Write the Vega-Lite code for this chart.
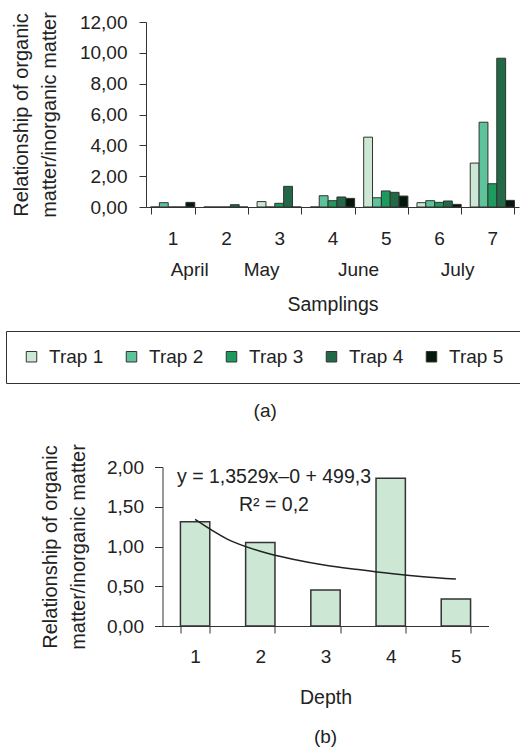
{
  "$schema": "https://vega.github.io/schema/vega-lite/v6.json",
  "padding": {"left": 5, "right": 1, "top": 11, "bottom": 5},
  "spacing": 22,
  "center": true,
  "config": {
    "view": {"stroke": null},
    "font": "Liberation Sans",
    "axis": {
      "grid": false,
      "labelFont": "Liberation Sans",
      "titleFont": "Liberation Sans",
      "labelColor": "#222222",
      "titleColor": "#222222",
      "titleFontWeight": "normal",
      "domainColor": "#333333",
      "tickColor": "#333333",
      "labelFontSize": 19,
      "titleFontSize": 19.5,
      "labelOverlap": false
    },
    "legend": {"labelFont": "Liberation Sans", "labelColor": "#222222"},
    "title": {"font": "Liberation Sans", "fontWeight": "normal", "color": "#222222", "fontSize": 19}
  },
  "vconcat": [
    {
      "width": 373,
      "height": 185,
      "title": {"text": "(a)", "orient": "bottom", "anchor": "middle", "frame": "bounds", "offset": 88},
      "layer": [
        {
          "data": {
            "values": [
              {"sampling": 1, "trap": "Trap 1", "ratio": 0},
              {"sampling": 1, "trap": "Trap 2", "ratio": 0.28},
              {"sampling": 1, "trap": "Trap 3", "ratio": 0},
              {"sampling": 1, "trap": "Trap 4", "ratio": 0},
              {"sampling": 1, "trap": "Trap 5", "ratio": 0.3},
              {"sampling": 2, "trap": "Trap 1", "ratio": 0},
              {"sampling": 2, "trap": "Trap 2", "ratio": 0},
              {"sampling": 2, "trap": "Trap 3", "ratio": 0},
              {"sampling": 2, "trap": "Trap 4", "ratio": 0.15},
              {"sampling": 2, "trap": "Trap 5", "ratio": 0},
              {"sampling": 3, "trap": "Trap 1", "ratio": 0.35},
              {"sampling": 3, "trap": "Trap 2", "ratio": 0},
              {"sampling": 3, "trap": "Trap 3", "ratio": 0.24},
              {"sampling": 3, "trap": "Trap 4", "ratio": 1.34},
              {"sampling": 3, "trap": "Trap 5", "ratio": 0},
              {"sampling": 4, "trap": "Trap 1", "ratio": 0},
              {"sampling": 4, "trap": "Trap 2", "ratio": 0.73},
              {"sampling": 4, "trap": "Trap 3", "ratio": 0.41},
              {"sampling": 4, "trap": "Trap 4", "ratio": 0.65},
              {"sampling": 4, "trap": "Trap 5", "ratio": 0.56},
              {"sampling": 5, "trap": "Trap 1", "ratio": 4.53},
              {"sampling": 5, "trap": "Trap 2", "ratio": 0.6},
              {"sampling": 5, "trap": "Trap 3", "ratio": 1.04},
              {"sampling": 5, "trap": "Trap 4", "ratio": 0.95},
              {"sampling": 5, "trap": "Trap 5", "ratio": 0.71},
              {"sampling": 6, "trap": "Trap 1", "ratio": 0.28},
              {"sampling": 6, "trap": "Trap 2", "ratio": 0.41},
              {"sampling": 6, "trap": "Trap 3", "ratio": 0.3},
              {"sampling": 6, "trap": "Trap 4", "ratio": 0.39},
              {"sampling": 6, "trap": "Trap 5", "ratio": 0.17},
              {"sampling": 7, "trap": "Trap 1", "ratio": 2.85},
              {"sampling": 7, "trap": "Trap 2", "ratio": 5.5},
              {"sampling": 7, "trap": "Trap 3", "ratio": 1.51},
              {"sampling": 7, "trap": "Trap 4", "ratio": 9.65},
              {"sampling": 7, "trap": "Trap 5", "ratio": 0.43}
            ]
          },
          "mark": {"type": "bar", "stroke": "#333333", "strokeWidth": 1},
          "encoding": {
            "x": {
              "field": "sampling",
              "type": "ordinal",
              "scale": {"paddingInner": 0.17, "paddingOuter": 0.085},
              "axis": {
                "orient": "bottom",
                "title": null,
                "labelAngle": 0,
                "tickBand": "extent",
                "tickSize": 7,
                "labelPadding": 15
              }
            },
            "xOffset": {"field": "trap", "type": "nominal", "scale": {"paddingInner": 0, "paddingOuter": 0}},
            "y": {
              "field": "ratio",
              "type": "quantitative",
              "scale": {"domain": [0, 12], "nice": false},
              "axis": {
                "values": [0, 2, 4, 6, 8, 10, 12],
                "labelExpr": "replace(format(datum.value, '.2f'), '.', ',')",
                "tickSize": 7,
                "labelPadding": 12,
                "title": ["Relationship of organic", "matter/inorganic matter"],
                "titleFontSize": 20,
                "titleLineHeight": 28,
                "titlePadding": 20
              }
            },
            "color": {
              "field": "trap",
              "type": "nominal",
              "scale": {
                "domain": ["Trap 1", "Trap 2", "Trap 3", "Trap 4", "Trap 5"],
                "range": ["#cce8d4", "#5ec39b", "#1d9a5e", "#226a47", "#04190c"]
              },
              "legend": {
                "title": null,
                "orient": "none",
                "legendX": -140,
                "legendY": 309,
                "direction": "horizontal",
                "columns": 5,
                "strokeColor": "#333333",
                "padding": 16,
                "symbolType": "square",
                "symbolSize": 110,
                "symbolStrokeColor": "#333333",
                "symbolStrokeWidth": 1,
                "symbolOpacity": 1,
                "labelFontSize": 19,
                "labelOffset": 8,
                "columnPadding": 18
              }
            }
          }
        },
        {
          "data": {
            "values": [
              {"month": "April", "pos": 1.31},
              {"month": "May", "pos": 2.66},
              {"month": "June", "pos": 4.48},
              {"month": "July", "pos": 6.34}
            ]
          },
          "mark": {"type": "text", "opacity": 0},
          "encoding": {
            "text": {"field": "month"},
            "x": {
              "field": "pos",
              "type": "quantitative",
              "scale": {"domain": [0.5, 7.5], "nice": false, "zero": false},
              "axis": {
                "orient": "bottom",
                "values": [1.31, 2.66, 4.48, 6.34],
                "labelExpr": "datum.value < 2 ? 'April' : datum.value < 3 ? 'May' : datum.value < 5 ? 'June' : 'July'",
                "ticks": false,
                "tickSize": 0,
                "domain": false,
                "labelPadding": 53,
                "labelFlush": false,
                "title": "Samplings",
                "titlePadding": 16
              }
            }
          }
        }
      ],
      "resolve": {"scale": {"x": "independent"}, "axis": {"x": "independent"}}
    },
    {
      "width": 340,
      "height": 159,
      "title": {"text": "(b)", "orient": "bottom", "anchor": "middle", "frame": "group", "offset": 21, "dx": -7},
      "layer": [
        {
          "data": {
            "values": [
              {"depth": 1, "ratio": 1.31},
              {"depth": 2, "ratio": 1.05},
              {"depth": 3, "ratio": 0.454},
              {"depth": 4, "ratio": 1.857},
              {"depth": 5, "ratio": 0.34}
            ]
          },
          "mark": {"type": "bar", "fill": "#cce8d4", "stroke": "#333333", "strokeWidth": 1.5},
          "encoding": {
            "x": {
              "field": "depth",
              "type": "ordinal",
              "scale": {"range": [0, 326], "paddingInner": 0.55, "paddingOuter": 0.275},
              "axis": {
                "title": "Depth",
                "labelAngle": 0,
                "tickBand": "extent",
                "tickSize": 7,
                "labelPadding": 14,
                "titlePadding": 22
              }
            },
            "y": {
              "field": "ratio",
              "type": "quantitative",
              "scale": {"domain": [0, 2], "nice": false},
              "axis": {
                "values": [0, 0.5, 1, 1.5, 2],
                "labelExpr": "replace(format(datum.value, '.2f'), '.', ',')",
                "tickSize": 8,
                "labelPadding": 11,
                "labelOverlap": false,
                "title": ["Relationship of organic", "matter/inorganic matter"],
                "titleFontSize": 20,
                "titleLineHeight": 28,
                "titlePadding": 18
              }
            }
          }
        },
        {
          "data": {
            "values": [
              {"depth": 1, "fit": 1.34},
              {"depth": 1.5, "fit": 1.09},
              {"depth": 2, "fit": 0.94},
              {"depth": 2.5, "fit": 0.84},
              {"depth": 3, "fit": 0.765},
              {"depth": 3.5, "fit": 0.71},
              {"depth": 4, "fit": 0.66},
              {"depth": 4.5, "fit": 0.62},
              {"depth": 5, "fit": 0.59}
            ]
          },
          "mark": {"type": "line", "color": "#222222", "strokeWidth": 1.5, "interpolate": "monotone"},
          "encoding": {
            "x": {"field": "depth", "type": "quantitative", "scale": {"domain": [0.5, 5.5], "range": [0, 326], "nice": false, "zero": false}, "axis": null},
            "y": {
              "field": "fit",
              "type": "quantitative",
              "axis": {
                "values": [0, 0.5, 1, 1.5, 2],
                "labelExpr": "replace(format(datum.value, '.2f'), '.', ',')",
                "tickSize": 8,
                "labelPadding": 11,
                "labelOverlap": false,
                "title": ["Relationship of organic", "matter/inorganic matter"],
                "titleFontSize": 20,
                "titleLineHeight": 28,
                "titlePadding": 18
              }
            }
          }
        },
        {
          "data": {"values": [{}]},
          "mark": {"type": "text", "text": "y = 1,3529x–0 + 499,3", "fontSize": 19.5, "align": "center", "baseline": "alphabetic", "color": "#222222"},
          "encoding": {
            "x": {"datum": 2.21, "type": "quantitative", "scale": {"domain": [0.5, 5.5], "range": [0, 326], "nice": false, "zero": false}, "axis": null},
            "y": {
              "datum": 1.798,
              "type": "quantitative",
              "axis": {
                "values": [0, 0.5, 1, 1.5, 2],
                "labelExpr": "replace(format(datum.value, '.2f'), '.', ',')",
                "tickSize": 8,
                "labelPadding": 11,
                "labelOverlap": false,
                "title": ["Relationship of organic", "matter/inorganic matter"],
                "titleFontSize": 20,
                "titleLineHeight": 28,
                "titlePadding": 18
              }
            }
          }
        },
        {
          "data": {"values": [{}]},
          "mark": {"type": "text", "text": "R² = 0,2", "fontSize": 19.5, "align": "center", "baseline": "alphabetic", "color": "#222222"},
          "encoding": {
            "x": {"datum": 2.21, "type": "quantitative", "scale": {"domain": [0.5, 5.5], "range": [0, 326], "nice": false, "zero": false}, "axis": null},
            "y": {
              "datum": 1.445,
              "type": "quantitative",
              "axis": {
                "values": [0, 0.5, 1, 1.5, 2],
                "labelExpr": "replace(format(datum.value, '.2f'), '.', ',')",
                "tickSize": 8,
                "labelPadding": 11,
                "labelOverlap": false,
                "title": ["Relationship of organic", "matter/inorganic matter"],
                "titleFontSize": 20,
                "titleLineHeight": 28,
                "titlePadding": 18
              }
            }
          }
        }
      ],
      "resolve": {"scale": {"x": "independent"}}
    }
  ]
}
